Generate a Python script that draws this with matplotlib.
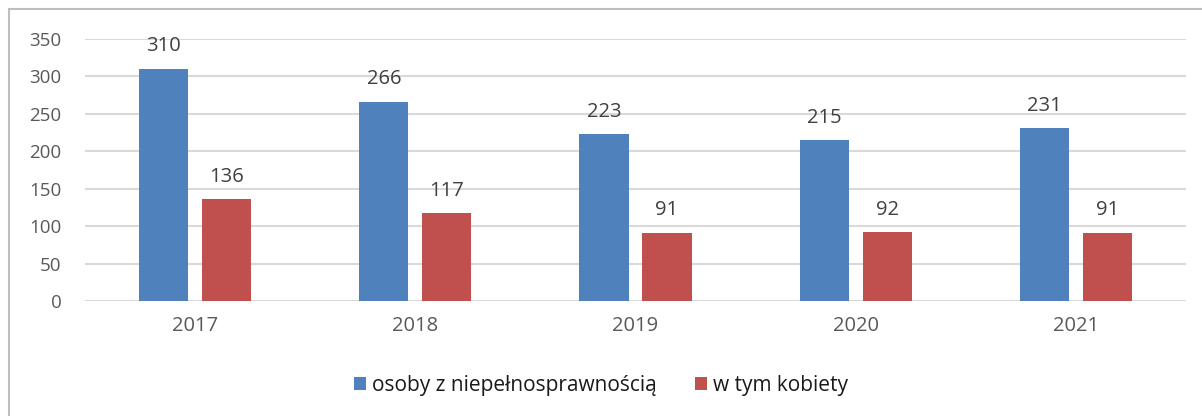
import numpy as np
import matplotlib
matplotlib.use("Agg")
import matplotlib.pyplot as plt
from matplotlib.patches import Rectangle

years = ["2017", "2018", "2019", "2020", "2021"]
osoby = [310, 266, 223, 215, 231]
kobiety = [136, 117, 91, 92, 91]
series_names = ["osoby z niepełnosprawnością", "w tym kobiety"]

blue = "#4F81BD"
red = "#C0504D"
txt = "#595959"

plt.rcParams['font.family'] = ['Open Sans', 'DejaVu Sans']

fig = plt.figure(figsize=(12.02, 4.16), dpi=100)
ax = fig.add_axes([85/1202, 1-301/416, 1101/1202, 262/416])

x = np.arange(len(years))
w = 0.223
off = 0.143
b1 = ax.bar(x - off, osoby, w, color=blue, label=series_names[0], zorder=3)
b2 = ax.bar(x + off, kobiety, w, color=red, label=series_names[1], zorder=3)

for bars, vals in ((b1, osoby), (b2, kobiety)):
    for b, v in zip(bars, vals):
        ax.annotate(str(v), (b.get_x() + b.get_width()/2, v), xytext=(0, 9),
                    textcoords="offset points", ha="center", va="bottom",
                    fontsize=14.5, color="#404040")

ax.set_xlim(-0.5, len(years) - 0.5)
ax.set_ylim(0, 350)
ax.set_yticks(range(0, 351, 50))
ax.set_xticks(x)
ax.set_xticklabels(years)
ax.yaxis.grid(True, color="#D9D9D9", linewidth=1.5, zorder=0)
ax.tick_params(length=0, colors=txt)
ax.tick_params(axis="y", pad=17, labelsize=13.5)
ax.tick_params(axis="x", pad=11, labelsize=14.5)
for s in ax.spines.values():
    s.set_visible(False)

leg = fig.legend(handles=[b1, b2], loc="center", bbox_to_anchor=(0.5, 1-385/416),
                 ncol=2, frameon=False, fontsize=15, handlelength=0.6,
                 handleheight=0.6, handletextpad=0.3, columnspacing=1.8)
for t in leg.get_texts():
    t.set_color("#1a1a1a")

fig.patches.append(Rectangle((9/1202, -0.05), 1.2, 1 - 9/416 + 0.05,
                             transform=fig.transFigure, fill=False,
                             edgecolor="#BFBFBF", linewidth=1.5))

fig.savefig("out.png", dpi=100)
